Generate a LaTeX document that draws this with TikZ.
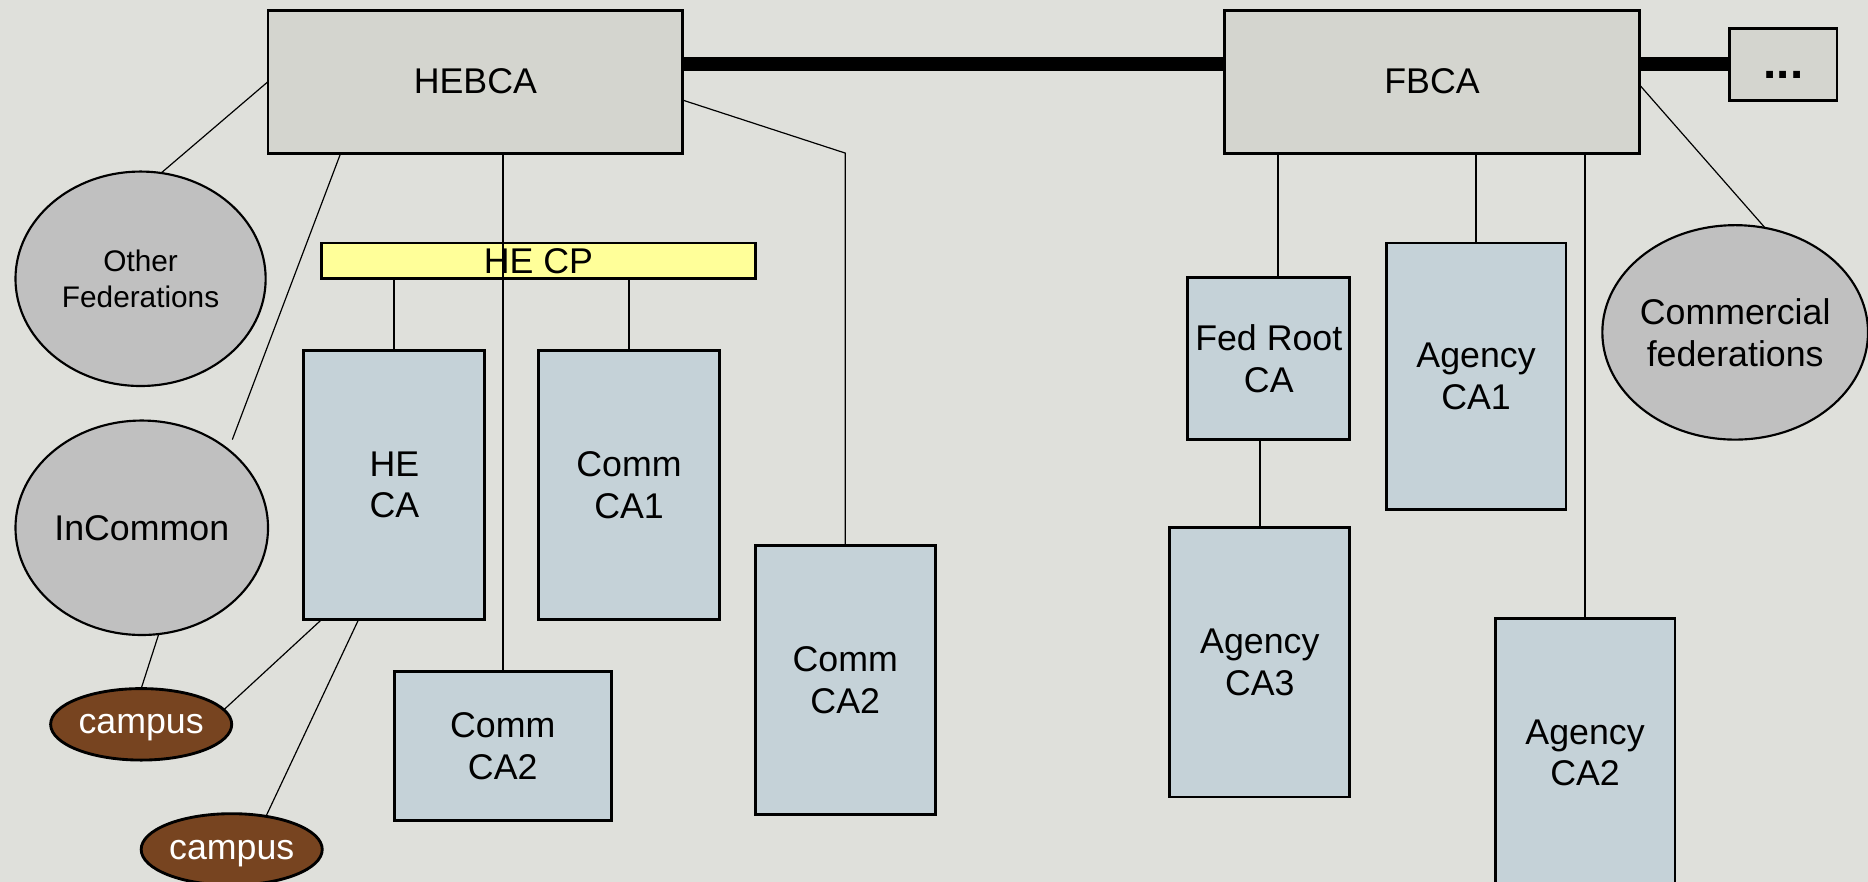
\documentclass[tikz,border=0pt]{standalone}
\usepackage{fontspec}
\setmainfont{Liberation Sans}
\usetikzlibrary{shapes.geometric,calc}
\definecolor{bg}{HTML}{DFE0DB}
\definecolor{topfill}{HTML}{D4D5CF}
\definecolor{cafill}{HTML}{C5D2D8}
\definecolor{fedfill}{HTML}{C0C0C0}
\definecolor{cpfill}{HTML}{FFFF99}
\definecolor{campusfill}{HTML}{774420}
\begin{document}
\begin{tikzpicture}[x=0.5pt,y=-0.5pt,
  every node/.style={inner sep=0pt,outer sep=0pt,align=center,font=\fontsize{15}{17.5}\selectfont},
  topbox/.style={draw=black,line width=1.2pt,fill=topfill,rectangle},
  cabox/.style={draw=black,line width=1.2pt,fill=cafill,rectangle,minimum width=75.5pt,minimum height=112.5pt},
  cpbar/.style={draw=black,line width=1.2pt,fill=cpfill,rectangle},
  fed/.style={draw=black,line width=0.9pt,fill=fedfill,ellipse,inner sep=-6pt},
  campus/.style={draw=black,line width=1.2pt,fill=campusfill,ellipse,inner sep=-6pt,text=white,text depth=0pt,minimum width=76pt,minimum height=30pt},
  link/.style={line width=0.8pt},
  thin/.style={line width=0.5pt},
  bridge/.style={line width=6pt}]
\clip (0,0) rectangle (1568,740);
\fill[bg] (0,0) rectangle (1568,740);

% top bridges
\node[topbox,minimum width=174pt,minimum height=60pt] (hebca) at (399,68.5) {HEBCA};
\node[topbox,minimum width=174pt,minimum height=60pt] (fbca) at (1202,68.5) {FBCA};
\node[topbox,minimum width=45pt,minimum height=30pt,text height=12pt,text depth=0pt,font=\fontsize{20}{22}\selectfont\bfseries] (dots) at (1497,54) {...};

% HE side
\node[cpbar,minimum width=182pt,minimum height=15pt] (hecp) at (452,219) {HE CP};
\node[cabox,minimum width=76pt,minimum height=113pt] (heca) at (331,407) {HE\\CA};
\node[cabox,minimum width=76pt,minimum height=113pt] (commca1) at (528,407) {Comm\\CA1};
\node[cabox,minimum width=91pt,minimum height=62.5pt] (commca2b) at (422,626.5) {Comm\\CA2};
\node[cabox,minimum width=75.5pt,minimum height=113pt] (commca2r) at (709.5,571) {Comm\\CA2};

\node[fed,minimum width=105pt,minimum height=90pt,font=\fontsize{12.5}{15}\selectfont] (otherfed) at (118,234) {Other\\Federations};
\node[fed,minimum width=106pt,minimum height=90pt] (incommon) at (119,443) {InCommon};
\node[campus] (campus1) at (118.5,608) {campus};
\node[campus] (campus2) at (194.5,713) {campus};

% Federal side
\node[cabox,minimum width=68pt,minimum height=67.75pt] (fedroot) at (1065,301) {Fed Root\\CA};
\node[cabox,minimum height=113pt] (agency3) at (1057.5,556) {Agency\\CA3};
\node[cabox,minimum height=112pt] (agency1) at (1239,316) {Agency\\CA1};
\node[cabox,minimum height=113pt] (agency2) at (1330.5,632) {Agency\\CA2};
\node[fed,minimum width=111.5pt,minimum height=90pt] (commfed) at (1456.5,279) {Commercial\\federations};

% connectors
\draw[bridge] ([yshift=7.25pt]hebca.east) -- ([yshift=7.25pt]fbca.west);
\draw[bridge] ([yshift=7.25pt]fbca.east) -- (dots.west);

\draw[link] (commca2b.north) -- (commca2b.north |- hebca.south);
\draw[link] (heca.north) -- (heca.north |- hecp.south);
\draw[link] (commca1.north) -- (commca1.north |- hecp.south);
\draw[thin] ([yshift=-7.75pt]hebca.east) -- (commca2r.north |- hebca.south) -- (commca2r.north);

\coordinate (incTop) at (195,369);
\draw[thin] (hebca.west) -- (otherfed.79);
\draw[thin] ([xshift=30.5pt]hebca.south west) -- (incTop);
\draw[thin] ([xshift=7pt]incommon.south) -- (campus1.north);
\draw[thin] ([xshift=-30.5pt]heca.south) -- (campus1.10);
\draw[thin] ([xshift=-15pt]heca.south) -- (campus2.44);

\draw[link] ([xshift=4pt]fedroot.north) -- ([xshift=4pt]fedroot.north |- fbca.south);
\draw[link] (agency3.north) -- (agency3.north |- fedroot.south);
\draw[link] (agency1.north) -- (agency1.north |- fbca.south);
\draw[link] (agency2.north) -- (agency2.north |- fbca.south);
\draw[thin] ([yshift=-1.25pt]fbca.east) -- (commfed.74);
\end{tikzpicture}
\end{document}
